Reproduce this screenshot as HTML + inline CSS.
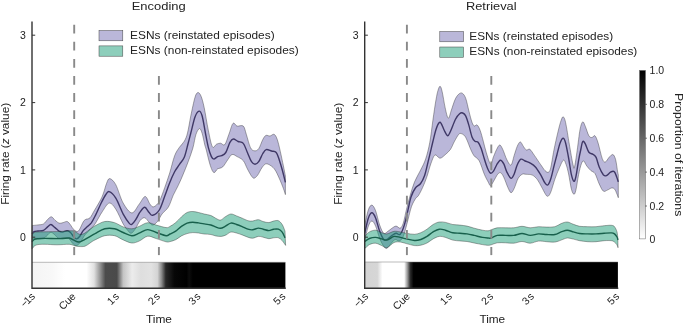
<!DOCTYPE html>
<html><head><meta charset="utf-8"><title>Firing rate</title>
<style>
html,body{margin:0;padding:0;background:#fff;}
svg{display:block;}
text{font-family:"Liberation Sans",sans-serif;fill:#222;}
.t{font-size:10.5px;}
.ttl{font-size:11.2px;}
.ax{stroke:#333;stroke-width:1.4;fill:none;}
.tk{stroke:#333;stroke-width:1;fill:none;}
.ds{stroke:#898989;stroke-width:1.9;stroke-dasharray:8.8 8.3;fill:none;}
.pb{fill:#7570b3;fill-opacity:.5;stroke:#222;stroke-width:.45;stroke-opacity:.85;}
.gb{fill:#1b9e77;fill-opacity:.5;stroke:#222;stroke-width:.45;stroke-opacity:.85;}
.pm{fill:none;stroke:#3f3866;stroke-width:1.4;}
.gm{fill:none;stroke:#18604c;stroke-width:1.4;}
</style></head><body>
<svg width="685" height="326" viewBox="0 0 685 326">
<defs>
<linearGradient id="hl" x1="0" x2="1" y1="0" y2="0">
<stop offset="0" stop-color="#f4f4f4"/>
<stop offset="0.08" stop-color="#f8f8f8"/>
<stop offset="0.13" stop-color="#ffffff"/>
<stop offset="0.215" stop-color="#ffffff"/>
<stop offset="0.245" stop-color="#e0e0e0"/>
<stop offset="0.27" stop-color="#909090"/>
<stop offset="0.29" stop-color="#4c4c4c"/>
<stop offset="0.335" stop-color="#4a4a4a"/>
<stop offset="0.36" stop-color="#c4c4c4"/>
<stop offset="0.395" stop-color="#ececec"/>
<stop offset="0.43" stop-color="#dedede"/>
<stop offset="0.47" stop-color="#e2e2e2"/>
<stop offset="0.495" stop-color="#d4d4d4"/>
<stop offset="0.511" stop-color="#8c8c8c"/>
<stop offset="0.528" stop-color="#282828"/>
<stop offset="0.562" stop-color="#070707"/>
<stop offset="0.61" stop-color="#000000"/>
<stop offset="0.62" stop-color="#0c0c0c"/>
<stop offset="0.635" stop-color="#000000"/>
<stop offset="1" stop-color="#000000"/>
</linearGradient>
<linearGradient id="hr" x1="0" x2="1" y1="0" y2="0">
<stop offset="0" stop-color="#d4d4d4"/>
<stop offset="0.05" stop-color="#d6d6d6"/>
<stop offset="0.07" stop-color="#ffffff"/>
<stop offset="0.156" stop-color="#ffffff"/>
<stop offset="0.169" stop-color="#969696"/>
<stop offset="0.180" stop-color="#2c2c2c"/>
<stop offset="0.193" stop-color="#000000"/>
<stop offset="1" stop-color="#000000"/>
</linearGradient>
<linearGradient id="cb" x1="0" x2="0" y1="0" y2="1">
<stop offset="0" stop-color="#000000"/>
<stop offset="1" stop-color="#ffffff"/>
</linearGradient>
</defs>
<rect width="685" height="326" fill="#fff"/>

<!-- LEFT PANEL -->
<text class="ttl" x="158.7" y="10.4" text-anchor="middle" textLength="54" lengthAdjust="spacingAndGlyphs">Encoding</text>
<rect x="32" y="262.3" width="253.4" height="26" fill="url(#hl)"/>
<line x1="32" y1="262.3" x2="285.4" y2="262.3" stroke="#777" stroke-width=".5"/>
<path class="pb" d="M32.3,225.5C33.3,225.4 36.2,225.2 38.1,224.9C40.0,224.6 41.9,224.8 43.5,223.9C45.1,223.0 46.3,220.7 47.6,219.5C48.9,218.3 50.2,216.7 51.4,216.8C52.6,216.9 53.7,219.1 55.0,220.2C56.3,221.2 57.8,222.7 59.1,223.1C60.5,223.5 61.8,222.9 63.1,222.6C64.5,222.3 66.0,221.1 67.2,221.5C68.4,221.9 69.5,223.6 70.5,224.9C71.5,226.2 72.4,228.2 73.5,229.3C74.6,230.4 76.0,231.5 77.0,231.5C78.0,231.5 78.5,231.0 79.5,229.5C80.5,228.0 82.0,224.0 83.0,222.3C84.0,220.6 84.3,220.2 85.5,219.5C86.7,218.8 88.5,219.3 90.0,217.8C91.5,216.3 92.7,213.3 94.5,210.3C96.3,207.3 99.2,202.5 100.7,199.6C102.2,196.7 102.5,195.7 103.5,193.0C104.5,190.3 105.5,185.9 106.5,183.5C107.5,181.1 108.2,178.4 109.7,178.6C111.2,178.8 113.5,180.6 115.8,184.7C118.0,188.8 120.5,198.4 123.2,203.1C125.9,207.8 129.2,212.7 131.8,212.9C134.5,213.1 136.9,207.0 139.1,204.3C141.3,201.6 143.4,196.5 145.2,196.5C147.0,196.5 148.7,202.6 150.1,204.3C151.5,206.0 152.3,207.3 153.8,206.8C155.3,206.3 157.5,204.5 159.3,201.3C161.1,198.1 163.0,192.4 164.7,187.7C166.4,183.0 168.0,178.3 169.7,173.0C171.3,167.7 173.0,160.1 174.6,155.8C176.2,151.5 177.9,149.6 179.5,147.2C181.1,144.8 183.1,143.5 184.4,141.1C185.7,138.7 186.4,137.2 187.5,133.0C188.6,128.8 189.6,121.8 190.8,115.8C192.1,109.8 193.8,101.2 195.0,97.3C196.2,93.4 197.0,92.8 198.0,92.6C199.0,92.4 200.1,93.8 201.1,96.3C202.1,98.8 203.0,101.9 204.2,107.6C205.4,113.2 206.9,123.7 208.3,130.2C209.7,136.7 211.0,144.4 212.4,146.7C213.8,149.0 215.1,144.8 216.5,144.2C217.9,143.6 219.2,143.1 220.6,143.2C222.0,143.3 223.4,146.1 224.8,144.6C226.2,143.1 227.5,137.8 228.9,134.3C230.3,130.8 231.6,124.8 233.0,123.4C234.4,122.0 235.4,125.6 237.1,126.1C238.8,126.5 241.8,124.7 243.3,126.1C244.8,127.5 245.1,130.7 246.3,134.3C247.5,137.9 249.1,144.9 250.5,147.7C251.9,150.4 253.2,150.6 254.6,150.8C256.0,151.0 257.3,150.6 258.7,148.7C260.1,146.8 261.6,141.7 262.8,139.5C264.0,137.3 264.7,136.0 265.9,135.4C267.1,134.8 268.6,136.2 270.0,136.0C271.4,135.8 272.9,133.8 274.1,134.3C275.3,134.9 276.2,136.5 277.2,139.3C278.2,142.2 279.3,147.0 280.3,151.4C281.3,155.8 282.5,161.7 283.4,165.8C284.2,169.9 285.1,174.4 285.4,176.1L285.4,194.6C285.1,193.6 284.4,191.2 283.4,188.5C282.4,185.8 280.6,181.3 279.2,178.2C277.8,175.1 276.5,172.1 275.1,170.0C273.7,167.9 272.5,166.8 271.0,165.8C269.5,164.8 267.4,163.5 265.9,163.8C264.4,164.2 263.2,166.0 261.8,167.9C260.4,169.8 259.0,173.4 257.7,175.1C256.4,176.8 255.2,178.0 254.2,178.2C253.2,178.4 252.6,177.6 251.5,176.1C250.4,174.6 248.8,171.5 247.4,168.9C246.0,166.3 245.0,162.8 243.3,160.7C241.6,158.6 239.0,157.6 237.1,156.6C235.2,155.6 233.6,154.0 232.0,154.5C230.4,155.0 229.4,157.6 227.8,159.7C226.2,161.8 224.4,165.4 222.7,166.9C221.0,168.4 219.1,168.0 217.6,168.9C216.1,169.8 215.1,173.1 213.9,172.6C212.7,172.1 211.7,169.6 210.4,165.8C209.1,162.0 207.2,153.5 206.3,150.0C205.4,146.5 205.5,147.8 204.8,145.0C204.1,142.2 203.0,136.0 202.1,133.3C201.2,130.6 200.5,128.4 199.5,128.6C198.5,128.8 197.1,131.1 196.0,134.3C194.9,137.5 194.2,143.4 192.9,148.0C191.6,152.6 189.7,157.5 188.1,161.9C186.5,166.3 184.8,170.3 183.2,174.2C181.6,178.1 180.0,181.8 178.3,185.3C176.7,188.8 175.0,191.5 173.3,195.1C171.7,198.7 170.3,203.8 168.4,207.0C166.5,210.2 163.8,211.6 162.0,214.0C160.2,216.4 159.1,219.7 157.5,221.5C155.9,223.3 154.0,225.0 152.6,225.1C151.2,225.2 150.2,223.2 148.9,222.0C147.6,220.8 146.2,218.1 144.8,217.8C143.4,217.5 141.9,218.4 140.3,220.2C138.7,222.0 136.9,226.6 135.4,228.8C133.9,231.0 132.5,232.9 131.3,233.2C130.1,233.5 129.4,232.4 128.1,230.8C126.8,229.2 125.2,227.5 123.2,223.9C121.2,220.3 118.1,212.7 115.8,209.2C113.5,205.7 111.4,202.7 109.2,203.1C107.0,203.5 104.8,208.0 102.4,211.5C100.0,215.0 97.1,220.9 95.0,224.0C92.9,227.1 91.6,228.1 90.0,229.8C88.4,231.6 86.8,232.6 85.3,234.5C83.8,236.4 82.2,239.6 81.0,241.3C79.8,243.0 78.9,244.1 78.0,244.8C77.1,245.5 76.4,245.9 75.5,245.6C74.6,245.3 73.4,244.2 72.4,243.1C71.4,242.0 70.5,240.1 69.4,239.2C68.3,238.3 67.8,238.1 66.0,237.9C64.2,237.7 60.2,238.5 58.4,238.0C56.6,237.5 56.2,235.9 55.0,235.0C53.8,234.1 52.2,232.2 50.9,232.3C49.5,232.4 48.1,234.8 46.9,235.7C45.7,236.6 45.5,237.6 43.5,238.0C41.5,238.4 36.9,238.2 35.0,238.4C33.1,238.7 32.8,239.3 32.3,239.5Z"/>
<path class="pm" d="M32.1,233.8C32.4,233.4 33.0,232.1 34.0,231.6C35.0,231.1 36.4,231.2 38.0,231.0C39.6,230.8 41.9,231.0 43.5,230.3C45.1,229.6 46.4,227.9 47.6,226.9C48.8,225.9 49.7,224.4 50.9,224.5C52.1,224.6 53.6,226.5 55.0,227.6C56.4,228.7 57.9,230.4 59.1,231.2C60.3,231.9 61.0,232.2 62.4,232.1C63.8,232.0 65.9,230.7 67.2,230.8C68.5,230.9 69.4,231.5 70.5,232.5C71.6,233.5 72.7,235.9 73.7,237.0C74.7,238.1 75.5,239.0 76.5,238.9C77.5,238.8 78.7,237.6 79.8,236.2C80.9,234.8 81.9,232.2 83.2,230.6C84.5,229.0 86.2,227.8 87.5,226.5C88.8,225.2 90.0,224.6 91.3,222.9C92.5,221.2 93.4,219.5 95.0,216.3C96.6,213.2 99.0,207.6 100.7,204.0C102.5,200.4 104.1,197.1 105.5,195.0C106.9,192.9 107.5,191.1 109.2,191.6C110.9,192.1 113.5,194.4 115.8,198.2C118.1,201.9 121.0,209.9 123.2,214.1C125.5,218.3 127.9,221.7 129.3,223.4C130.7,225.1 130.8,224.9 131.8,224.4C132.8,223.9 134.0,222.3 135.4,220.2C136.8,218.1 138.7,213.8 140.3,211.7C141.9,209.5 143.4,207.2 144.8,207.3C146.2,207.4 147.6,210.9 148.9,212.2C150.2,213.5 150.9,215.7 152.6,215.3C154.3,214.9 157.3,213.2 159.3,210.0C161.3,206.8 163.0,200.8 164.7,196.3C166.4,191.8 168.0,186.9 169.7,182.8C171.3,178.7 173.0,174.9 174.6,171.8C176.2,168.7 177.9,166.9 179.5,164.4C181.1,161.9 183.0,160.5 184.4,157.0C185.8,153.5 187.0,147.5 188.1,143.5C189.2,139.5 189.7,137.4 190.8,133.0C192.0,128.6 193.6,120.6 195.0,116.9C196.4,113.2 197.9,111.3 199.1,111.1C200.3,110.9 201.0,112.1 202.1,115.8C203.2,119.5 204.4,127.8 205.4,133.0C206.4,138.2 207.3,143.4 208.3,147.3C209.3,151.2 210.5,154.6 211.4,156.6C212.3,158.6 212.9,159.1 213.9,159.1C214.9,159.1 216.3,157.2 217.6,156.6C218.9,156.0 220.3,156.3 221.7,155.6C223.1,154.9 224.4,154.7 225.8,152.5C227.2,150.3 228.7,144.7 229.9,142.4C231.2,140.2 231.9,139.2 233.3,139.0C234.7,138.8 236.4,140.8 238.1,141.5C239.8,142.2 241.8,141.6 243.3,143.4C244.9,145.2 246.0,149.4 247.4,152.5C248.8,155.6 250.2,159.8 251.5,161.7C252.8,163.6 253.8,164.2 255.0,164.2C256.2,164.2 257.4,163.5 258.7,161.7C260.0,159.9 261.6,155.5 262.8,153.5C264.1,151.5 264.8,150.0 266.2,149.6C267.6,149.2 269.8,150.5 271.5,151.0C273.2,151.5 274.9,151.1 276.2,152.5C277.5,153.9 278.2,156.8 279.2,159.7C280.2,162.6 281.3,166.2 282.3,170.0C283.3,173.8 284.9,180.2 285.4,182.3"/>
<path class="gb" d="M32.1,235.0C32.4,234.6 33.2,233.1 34.0,232.6C34.8,232.1 35.2,232.1 37.0,232.0C38.8,231.9 41.2,231.9 45.0,231.8C48.8,231.7 55.8,231.6 60.0,231.4C64.2,231.2 67.6,230.8 70.0,230.8C72.4,230.8 73.2,230.8 74.5,231.2C75.8,231.6 76.9,232.9 78.0,233.5C79.1,234.1 79.8,234.7 81.0,234.6C82.2,234.5 83.5,233.9 85.0,233.0C86.5,232.1 88.3,230.4 90.0,229.2C91.7,228.0 92.5,227.2 95.0,225.9C97.5,224.6 101.5,222.0 104.8,221.5C108.1,221.0 111.5,221.8 114.6,222.7C117.7,223.6 120.3,225.9 123.2,226.9C126.1,227.9 129.2,228.9 131.8,228.8C134.5,228.7 136.4,227.4 139.1,226.4C141.8,225.4 144.8,222.9 147.7,222.7C150.6,222.5 153.2,224.3 156.3,225.1C159.4,225.9 163.8,227.4 166.1,227.6C168.4,227.8 168.4,227.2 170.0,226.4C171.6,225.6 173.8,224.2 175.7,222.6C177.6,221.0 179.5,218.6 181.4,216.9C183.3,215.2 185.2,213.4 187.1,212.5C189.0,211.6 190.9,211.5 192.8,211.5C194.7,211.5 196.6,212.1 198.5,212.5C200.4,212.9 202.1,213.5 204.2,214.0C206.3,214.5 209.0,214.8 210.9,215.5C212.8,216.2 214.0,217.4 215.6,218.2C217.2,219.0 218.8,220.3 220.4,220.1C222.0,219.9 223.4,217.9 225.1,216.9C226.8,215.9 228.9,214.2 230.8,214.0C232.7,213.8 234.6,215.2 236.5,215.9C238.4,216.6 240.3,217.4 242.2,218.2C244.1,219.0 246.2,220.2 247.9,220.7C249.7,221.2 250.9,221.2 252.7,221.0C254.4,220.8 256.6,219.6 258.4,219.7C260.1,219.8 261.4,221.1 263.2,221.6C264.9,222.1 267.2,222.7 268.9,222.6C270.6,222.5 272.0,221.3 273.6,221.0C275.2,220.7 277.0,220.1 278.4,220.7C279.8,221.3 281.1,222.8 282.2,224.5C283.3,226.2 284.5,230.0 285.0,231.1L285.6,245.4C285.0,244.6 283.4,241.9 282.2,240.6C281.0,239.3 279.8,238.3 278.4,237.8C277.0,237.3 275.2,237.7 273.6,237.8C272.0,238.0 270.6,238.8 268.9,238.7C267.2,238.6 264.9,237.6 263.2,237.2C261.4,236.8 260.1,236.2 258.4,236.4C256.6,236.6 254.4,238.1 252.7,238.2C250.9,238.3 249.7,237.8 247.9,237.2C246.2,236.6 244.1,235.6 242.2,234.9C240.3,234.2 238.4,233.5 236.5,233.0C234.6,232.5 232.5,231.8 230.8,232.1C229.1,232.4 227.7,234.2 226.1,234.9C224.5,235.6 223.1,236.2 221.3,236.4C219.6,236.6 217.3,236.2 215.6,235.9C213.9,235.6 212.8,234.8 210.9,234.5C209.0,234.2 206.3,234.2 204.2,234.0C202.1,233.8 200.4,233.2 198.5,233.0C196.6,232.8 194.7,232.5 192.8,232.6C190.9,232.7 189.0,233.0 187.1,233.6C185.2,234.2 183.3,234.9 181.4,235.9C179.5,236.9 177.6,238.8 175.7,239.7C173.8,240.6 171.6,241.2 170.0,241.6C168.4,241.9 168.4,242.3 166.1,241.8C163.8,241.3 159.4,239.5 156.3,238.6C153.2,237.7 150.6,235.8 147.7,236.2C144.8,236.6 141.8,240.0 139.1,241.1C136.4,242.2 134.5,243.2 131.8,243.0C129.2,242.8 126.1,241.1 123.2,239.9C120.3,238.7 117.7,236.4 114.6,235.7C111.5,235.0 108.1,235.0 104.8,235.7C101.5,236.4 97.5,238.7 95.0,239.9C92.5,241.1 91.7,241.9 90.0,243.0C88.3,244.1 86.8,245.6 85.0,246.2C83.2,246.8 80.8,246.6 79.0,246.5C77.2,246.4 76.1,246.1 74.5,245.7C72.9,245.3 72.1,244.5 69.2,244.3C66.3,244.2 61.0,244.8 57.0,244.8C53.0,244.8 48.2,244.3 45.0,244.3C41.8,244.3 39.8,244.3 38.0,244.6C36.2,244.9 35.5,245.3 34.5,246.0C33.5,246.7 32.4,248.3 32.0,248.8Z"/>
<path class="gm" d="M32.0,241.7C32.4,241.3 33.5,239.9 34.5,239.4C35.5,238.9 36.2,238.9 38.0,238.7C39.8,238.5 41.2,238.4 45.0,238.4C48.8,238.4 56.7,238.7 60.7,238.6C64.7,238.5 67.0,237.7 69.2,238.0C71.4,238.3 72.3,239.5 73.9,240.2C75.5,240.9 77.2,242.2 79.0,242.0C80.8,241.8 82.3,240.7 85.0,239.3C87.7,237.9 91.7,235.4 95.0,233.7C98.3,231.9 101.5,229.6 104.8,228.8C108.1,228.0 111.5,228.2 114.6,228.8C117.7,229.4 120.3,231.3 123.2,232.5C126.1,233.7 129.2,235.6 131.8,235.7C134.5,235.8 136.4,234.2 139.1,233.2C141.8,232.2 144.8,229.7 147.7,229.6C150.6,229.5 153.2,231.5 156.3,232.5C159.4,233.5 163.8,235.4 166.1,235.7C168.4,235.9 168.4,234.8 170.0,234.0C171.6,233.2 173.8,232.4 175.7,231.1C177.6,229.8 179.5,227.7 181.4,226.4C183.3,225.1 185.2,223.8 187.1,223.1C189.0,222.4 190.9,222.2 192.8,222.2C194.7,222.2 196.6,222.6 198.5,222.9C200.4,223.2 202.1,223.6 204.2,223.9C206.3,224.2 209.0,224.5 210.9,225.0C212.8,225.5 214.0,226.3 215.6,226.9C217.2,227.5 218.8,228.4 220.4,228.3C222.0,228.2 223.4,227.3 225.1,226.4C226.8,225.5 228.9,223.4 230.8,223.1C232.7,222.8 234.6,223.9 236.5,224.5C238.4,225.1 240.3,225.9 242.2,226.7C244.1,227.5 246.2,228.7 247.9,229.2C249.7,229.7 250.9,230.0 252.7,229.8C254.4,229.6 256.6,228.2 258.4,228.1C260.1,228.0 261.4,228.8 263.2,229.2C264.9,229.6 267.2,230.6 268.9,230.6C270.6,230.6 272.0,229.4 273.6,229.2C275.2,229.0 277.0,228.7 278.4,229.2C279.8,229.7 281.1,230.7 282.2,232.1C283.3,233.5 284.5,236.9 285.0,237.8"/>
<path class="ds" d="M74.2,24.7V255.1"/>
<path class="ds" d="M158.9,76V255.1"/>
<path class="ax" d="M32,21.4V288.3H285.8"/>
<path class="tk" d="M32,35.2h3.2M32,102.6h3.2M32,169.9h3.2M32,237.2h3.2"/>
<g class="t" text-anchor="end">
<text x="25.8" y="38.9">3</text><text x="25.8" y="106.3">2</text><text x="25.8" y="173.6">1</text><text x="25.8" y="240.9">0</text>
</g>
<text class="t" style="font-size:11px" transform="translate(9.3,153.8) rotate(-90)" text-anchor="middle" textLength="102" lengthAdjust="spacingAndGlyphs">Firing rate (<tspan font-style="italic">z</tspan> value)</text>
<rect x="99" y="30.5" width="23.8" height="10.3" fill="#7570b3" fill-opacity=".5" stroke="#444" stroke-width=".5"/>
<rect x="99" y="45.9" width="23.8" height="10.3" fill="#1b9e77" fill-opacity=".5" stroke="#444" stroke-width=".5"/>
<text class="t" x="130.1" y="38.5" textLength="144.5" lengthAdjust="spacingAndGlyphs">ESNs (reinstated episodes)</text>
<text class="t" x="130.1" y="54" textLength="168.6" lengthAdjust="spacingAndGlyphs">ESNs (non-reinstated episodes)</text>
<g class="t" text-anchor="end">
<text transform="translate(35.6,297) rotate(-45)" textLength="15.4" lengthAdjust="spacing">−1 s</text>
<text transform="translate(76.5,297) rotate(-45)">Cue</text>
<text transform="translate(119.8,297) rotate(-45)" textLength="12" lengthAdjust="spacing">1 s</text>
<text transform="translate(160.7,297) rotate(-45)" textLength="12" lengthAdjust="spacing">2 s</text>
<text transform="translate(201.2,297) rotate(-45)" textLength="12" lengthAdjust="spacing">3 s</text>
<text transform="translate(286.1,297) rotate(-45)" textLength="12" lengthAdjust="spacing">5 s</text>
</g>
<text class="ttl" x="159" y="322.8" text-anchor="middle" textLength="26" lengthAdjust="spacingAndGlyphs" style="font-size:11.5px">Time</text>

<!-- RIGHT PANEL -->
<text class="ttl" x="491.3" y="10.4" text-anchor="middle" textLength="50.7" lengthAdjust="spacingAndGlyphs">Retrieval</text>
<rect x="364.7" y="262" width="253.2" height="26.3" fill="url(#hr)"/>
<line x1="364.7" y1="262" x2="617.9" y2="262" stroke="#777" stroke-width=".5"/>
<path class="pb" d="M364.7,225.1C365.3,222.5 367.2,213.0 368.4,209.7C369.6,206.4 370.7,204.9 371.9,205.1C373.1,205.3 374.3,207.4 375.6,210.7C376.9,214.0 378.3,221.3 379.7,225.1C381.1,228.9 382.4,232.3 383.8,233.3C385.2,234.3 386.5,232.2 387.9,231.3C389.3,230.5 390.6,229.1 392.0,228.2C393.4,227.3 394.7,226.1 396.1,226.1C397.5,226.1 399.0,228.7 400.2,228.2C401.4,227.7 402.3,226.1 403.3,223.0C404.3,219.9 405.3,214.2 406.4,209.7C407.5,205.2 408.6,200.6 410.0,196.0C411.4,191.4 412.7,186.3 414.5,182.0C416.3,177.7 418.7,174.0 420.6,170.1C422.5,166.2 424.2,163.4 425.7,158.8C427.2,154.2 428.6,148.7 429.8,142.3C431.0,135.9 431.9,127.3 432.9,120.2C433.9,113.1 435.1,104.7 436.0,99.7C436.9,94.7 437.3,92.6 438.0,90.4C438.7,88.2 439.4,86.1 440.1,86.3C440.8,86.5 441.2,87.8 442.1,91.4C443.0,95.0 444.2,103.4 445.2,107.9C446.2,112.4 447.3,117.9 448.3,118.2C449.3,118.5 450.2,113.3 451.4,110.0C452.6,106.7 454.1,101.3 455.5,98.6C456.9,95.8 458.4,94.3 459.6,93.5C460.8,92.7 461.7,92.7 462.7,93.5C463.7,94.3 464.8,95.7 465.8,98.6C466.8,101.5 467.9,107.0 468.9,111.0C469.9,115.0 471.1,119.8 472.0,122.3C472.9,124.8 473.5,125.5 474.4,126.0C475.2,126.5 476.1,124.2 477.1,125.0C478.1,125.8 479.2,127.8 480.2,130.5C481.2,133.2 482.3,137.6 483.3,141.3C484.3,145.0 485.1,148.8 486.3,152.6C487.5,156.4 489.3,163.2 490.5,163.9C491.7,164.6 492.5,159.1 493.5,156.7C494.5,154.3 495.6,151.4 496.6,149.5C497.6,147.6 498.7,145.0 499.7,145.0C500.7,145.0 501.6,147.0 502.8,149.5C504.0,152.0 505.5,157.2 506.9,159.8C508.3,162.4 509.8,165.7 511.0,165.0C512.2,164.3 513.1,158.8 514.1,155.7C515.1,152.6 516.2,148.7 517.2,146.4C518.2,144.1 519.3,141.9 520.3,141.9C521.3,141.9 522.4,145.1 523.4,146.4C524.4,147.8 525.3,149.5 526.4,150.0C527.5,150.5 528.6,148.4 529.9,149.3C531.2,150.2 532.6,152.9 534.4,155.4C536.2,157.9 538.8,162.0 540.6,164.5C542.4,167.0 543.7,169.3 545.0,170.6C546.3,171.9 547.4,172.7 548.4,172.2C549.4,171.7 549.9,171.2 550.8,167.5C551.7,163.8 552.7,156.2 553.9,150.2C555.1,144.2 556.8,136.7 558.0,131.7C559.2,126.7 560.2,122.9 561.1,120.4C562.0,117.9 562.5,116.6 563.2,116.9C564.0,117.2 564.6,118.0 565.6,122.5C566.6,127.0 568.1,137.1 569.3,144.1C570.5,151.1 572.1,160.8 573.0,164.6C573.9,168.4 573.8,169.4 574.5,167.0C575.2,164.6 576.3,156.4 577.2,150.2C578.1,144.0 579.1,134.4 580.0,129.7C580.9,125.0 581.8,122.4 582.7,121.9C583.6,121.4 584.4,124.3 585.4,126.6C586.4,128.9 587.8,134.0 588.9,135.8C590.0,137.6 591.0,137.5 592.0,137.5C593.0,137.5 594.0,134.9 595.0,135.8C596.0,136.7 596.9,139.2 598.1,143.0C599.3,146.8 601.0,155.2 602.2,158.4C603.4,161.6 604.1,162.2 605.3,162.0C606.5,161.8 608.1,158.2 609.4,157.0C610.7,155.8 611.9,154.1 612.9,154.5C613.9,154.9 614.8,156.6 615.6,159.5C616.4,162.4 617.2,169.5 617.7,172.0C618.2,174.5 618.2,174.2 618.3,174.7L618.3,197.7C618.1,197.1 617.6,195.6 617.0,194.2C616.4,192.8 615.5,190.1 614.6,189.1C613.7,188.1 612.7,187.8 611.5,188.0C610.3,188.2 608.8,189.6 607.4,190.1C606.0,190.6 604.7,192.1 603.3,191.1C601.9,190.1 600.6,186.8 599.2,183.9C597.8,181.0 596.4,175.8 595.0,173.6C593.6,171.4 592.3,171.9 590.9,170.6C589.5,169.3 588.0,167.6 586.8,166.0C585.6,164.4 584.6,161.4 583.7,161.0C582.8,160.6 582.4,161.2 581.5,163.5C580.6,165.8 579.5,170.3 578.6,174.7C577.7,179.1 576.7,186.8 575.9,190.1C575.1,193.3 574.6,194.4 573.9,194.2C573.1,194.0 572.3,192.5 571.4,189.1C570.5,185.7 569.5,178.1 568.6,174.0C567.7,169.9 566.9,166.6 566.0,164.3C565.1,162.0 564.5,159.5 563.4,160.2C562.2,160.9 560.5,165.4 559.1,168.5C557.7,171.6 556.4,174.9 555.0,178.8C553.6,182.7 552.0,189.2 550.8,192.1C549.6,195.0 548.8,196.1 547.8,196.3C546.8,196.6 546.1,195.2 545.1,193.6C544.1,192.0 542.9,189.3 541.6,187.0C540.3,184.7 539.0,181.8 537.5,179.8C536.0,177.8 534.2,176.0 532.3,175.1C530.4,174.2 527.9,174.5 526.2,174.3C524.5,174.2 523.6,173.5 522.3,174.2C521.0,174.9 519.6,175.9 518.2,178.3C516.8,180.7 515.3,186.2 514.1,188.6C512.9,191.0 512.0,192.9 511.0,192.7C510.0,192.5 509.1,190.2 507.9,187.6C506.7,185.0 505.0,179.8 503.8,177.3C502.6,174.8 501.7,173.3 500.7,172.8C499.7,172.3 498.9,172.8 497.7,174.2C496.5,175.6 494.7,179.5 493.5,181.4C492.3,183.3 491.4,185.3 490.5,185.5C489.6,185.7 489.4,184.3 488.4,182.4C487.4,180.5 485.8,177.8 484.3,174.2C482.8,170.6 480.9,163.9 479.2,160.8C477.5,157.7 475.6,157.9 474.0,155.7C472.4,153.5 470.9,149.8 469.9,147.5C468.9,145.2 468.6,143.9 467.8,142.0C467.0,140.1 465.9,137.4 464.8,136.0C463.7,134.6 462.1,133.8 461.1,133.6C460.1,133.3 459.7,133.2 458.6,134.5C457.5,135.8 455.9,138.8 454.5,141.3C453.1,143.8 451.9,147.3 450.4,149.5C448.8,151.7 446.9,153.2 445.2,154.7C443.5,156.1 441.8,158.1 440.1,158.2C438.4,158.3 436.4,154.1 434.9,155.1C433.3,156.1 432.2,160.2 430.8,163.9C429.4,167.6 428.1,173.4 426.7,177.3C425.3,181.2 424.0,184.6 422.6,187.6C421.2,190.6 419.6,193.7 418.5,195.5C417.4,197.3 416.9,196.6 415.7,198.4C414.5,200.2 412.9,202.7 411.5,206.6C410.1,210.5 408.8,217.0 407.4,222.0C406.0,227.0 404.7,233.2 403.3,236.4C401.9,239.6 400.6,240.4 399.2,240.9C397.8,241.4 396.5,239.1 395.1,239.5C393.7,239.9 392.4,242.1 391.0,243.6C389.6,245.1 388.1,247.9 386.9,248.3C385.7,248.8 385.0,247.9 383.8,246.3C382.6,244.7 381.1,241.9 379.7,238.5C378.3,235.1 376.9,229.0 375.6,226.1C374.3,223.2 373.1,221.0 371.9,221.0C370.7,221.0 369.6,222.8 368.4,226.1C367.2,229.3 365.3,238.1 364.7,240.5Z"/>
<path class="pm" d="M364.7,233.3C365.3,230.7 367.2,221.3 368.4,217.9C369.6,214.5 370.7,212.8 371.9,212.8C373.1,212.8 374.3,214.8 375.6,217.9C376.9,221.0 378.3,227.7 379.7,231.3C381.1,234.9 382.4,238.2 383.8,239.5C385.2,240.8 386.5,239.6 387.9,238.9C389.3,238.2 390.6,236.3 392.0,235.4C393.4,234.5 394.7,233.5 396.1,233.3C397.5,233.1 398.8,235.7 400.2,234.3C401.6,232.9 402.9,229.6 404.3,225.1C405.7,220.6 407.4,212.3 408.5,207.6C409.6,202.9 409.9,200.3 411.0,197.0C412.1,193.7 413.8,190.2 415.4,188.0C417.0,185.8 419.1,185.6 420.6,183.5C422.2,181.4 423.3,179.3 424.7,175.2C426.1,171.1 427.4,164.4 428.8,158.8C430.2,153.2 431.7,146.4 432.9,141.5C434.1,136.6 435.0,132.6 436.0,129.5C437.0,126.4 438.2,123.7 439.1,122.7C440.0,121.7 440.2,122.0 441.1,123.3C442.0,124.6 443.1,128.2 444.2,130.3C445.3,132.4 446.7,135.5 447.7,135.7C448.7,135.9 449.1,134.2 450.4,131.5C451.7,128.8 454.0,122.2 455.5,119.2C457.0,116.2 458.4,114.7 459.6,113.7C460.8,112.7 461.7,112.6 462.7,113.0C463.7,113.4 464.8,114.0 465.8,116.1C466.8,118.2 467.9,121.9 468.9,125.4C469.9,128.9 471.0,134.3 472.0,137.0C473.0,139.7 474.0,140.4 475.0,141.3C476.0,142.2 477.1,141.0 478.1,142.2C479.1,143.4 480.2,145.7 481.2,148.5C482.2,151.3 483.3,155.6 484.3,158.8C485.3,162.1 486.4,165.6 487.4,168.0C488.4,170.4 489.5,172.7 490.5,173.2C491.5,173.7 492.5,172.5 493.5,171.1C494.5,169.7 495.5,166.8 496.6,165.0C497.7,163.2 499.1,160.4 500.3,160.2C501.5,160.0 502.7,161.9 503.8,163.9C504.9,165.9 505.7,169.7 506.9,172.1C508.1,174.5 509.8,178.0 511.0,178.3C512.2,178.7 513.1,176.4 514.1,174.2C515.1,172.0 516.1,167.5 517.2,165.0C518.3,162.5 519.6,159.9 520.9,159.2C522.2,158.5 523.5,160.3 525.1,161.0C526.7,161.7 528.6,162.2 530.3,163.2C532.0,164.2 533.7,165.1 535.4,167.0C537.1,168.9 539.0,172.1 540.6,174.7C542.2,177.3 543.5,180.8 544.7,182.5C545.9,184.2 546.8,185.6 547.8,185.0C548.8,184.4 549.8,181.9 550.8,178.8C551.8,175.7 552.9,170.5 553.9,166.4C554.9,162.3 556.0,158.4 557.0,154.5C558.0,150.6 559.1,145.7 560.1,143.0C561.1,140.3 562.3,138.3 563.2,138.3C564.1,138.3 564.7,139.7 565.6,143.0C566.5,146.3 567.6,152.7 568.6,158.0C569.6,163.3 570.5,170.8 571.4,174.7C572.3,178.6 573.1,181.0 573.9,181.3C574.6,181.6 575.1,180.2 575.9,176.7C576.7,173.2 577.8,164.8 578.6,160.3C579.4,155.9 580.0,153.1 580.7,150.0C581.4,146.9 581.9,142.6 582.7,141.6C583.5,140.6 584.4,142.3 585.4,144.1C586.4,145.9 587.6,150.6 588.9,152.3C590.2,154.0 591.8,153.5 593.0,154.3C594.2,155.2 595.1,155.3 596.1,157.4C597.1,159.5 598.0,164.1 599.2,167.0C600.4,169.9 602.1,173.2 603.3,174.7C604.5,176.1 605.2,176.1 606.4,175.7C607.6,175.3 609.2,172.9 610.5,172.2C611.8,171.5 613.2,170.8 614.2,171.6C615.2,172.3 615.9,175.0 616.6,176.7C617.3,178.4 618.0,181.0 618.3,181.9"/>
<path class="gb" d="M364.7,236.4C365.5,235.7 367.6,232.9 369.4,231.9C371.2,230.9 373.6,230.1 375.6,230.2C377.7,230.3 379.8,232.1 381.7,232.7C383.6,233.3 384.8,234.1 386.9,233.9C389.0,233.7 391.9,231.6 394.1,231.3C396.3,231.0 398.1,231.6 400.2,231.9C402.2,232.2 404.0,232.9 406.4,233.3C408.8,233.7 412.2,234.4 414.6,234.3C417.0,234.2 418.7,233.5 420.8,232.7C422.9,231.8 424.9,230.6 427.0,229.2C429.1,227.8 431.1,225.7 433.1,224.5C435.2,223.3 437.2,222.3 439.3,222.0C441.4,221.7 443.3,222.0 445.5,222.4C447.7,222.8 450.3,224.1 452.7,224.5C455.1,224.9 457.5,224.8 459.9,225.1C462.3,225.4 464.6,225.6 467.0,226.1C469.4,226.6 471.6,227.5 474.2,228.2C476.8,228.9 480.2,229.8 482.5,230.2C484.8,230.6 486.6,230.9 488.0,230.8C489.4,230.7 489.6,230.3 491.2,229.8C492.8,229.3 494.9,228.1 497.3,227.8C499.7,227.5 502.9,227.8 505.6,227.8C508.4,227.8 511.1,228.1 513.8,227.8C516.5,227.6 519.3,226.3 522.0,226.3C524.7,226.3 527.5,227.7 530.2,227.8C533.0,227.9 535.8,226.8 538.5,226.7C541.2,226.6 544.0,227.1 546.7,227.1C549.4,227.1 552.5,227.3 554.9,226.7C557.3,226.1 559.0,224.4 561.1,223.6C563.2,222.8 565.2,221.9 567.2,222.0C569.2,222.1 571.3,223.6 573.4,224.3C575.5,225.0 577.2,225.9 579.6,226.3C582.0,226.7 585.1,226.6 587.8,226.7C590.5,226.8 593.3,226.9 596.0,226.7C598.7,226.5 601.6,225.9 604.2,225.7C606.8,225.5 609.7,225.1 611.4,225.3C613.1,225.5 613.6,225.6 614.5,226.7C615.4,227.8 616.5,230.0 617.0,231.9C617.5,233.8 617.7,237.0 617.8,238.0L618.0,247.7C617.8,247.2 617.6,245.7 617.0,244.8C616.4,243.9 615.4,242.8 614.5,242.1C613.6,241.4 613.1,240.9 611.4,240.7C609.7,240.5 606.8,240.5 604.2,240.7C601.6,240.9 598.7,241.5 596.0,241.7C593.3,241.9 590.5,241.9 587.8,241.7C585.1,241.5 582.0,241.1 579.6,240.7C577.2,240.3 575.5,239.5 573.4,239.1C571.3,238.7 569.2,237.8 567.2,238.0C565.2,238.2 563.2,239.4 561.1,240.1C559.0,240.8 557.3,241.8 554.9,242.1C552.5,242.4 549.4,241.9 546.7,241.7C544.0,241.5 541.2,240.8 538.5,241.1C535.8,241.3 533.0,243.1 530.2,243.2C527.5,243.3 524.7,241.5 522.0,241.5C519.3,241.5 516.5,243.0 513.8,243.2C511.1,243.4 508.4,242.9 505.6,242.8C502.9,242.7 499.7,242.5 497.3,242.8C494.9,243.1 492.8,244.4 491.2,244.8C489.6,245.2 489.4,245.3 488.0,245.3C486.6,245.3 484.8,245.0 482.5,244.6C480.2,244.2 476.8,243.5 474.2,243.0C471.6,242.5 469.4,241.8 467.0,241.5C464.6,241.2 462.3,241.1 459.9,240.9C457.5,240.7 455.1,240.7 452.7,240.1C450.3,239.5 447.7,238.0 445.5,237.4C443.3,236.8 441.4,236.2 439.3,236.4C437.2,236.7 435.2,237.8 433.1,238.9C431.1,240.0 429.1,241.9 427.0,243.0C424.9,244.1 422.9,244.8 420.8,245.2C418.7,245.6 417.0,245.9 414.6,245.6C412.2,245.3 408.8,244.2 406.4,243.6C404.0,243.0 402.2,242.2 400.2,242.0C398.1,241.8 396.3,241.6 394.1,242.5C391.9,243.4 389.0,247.2 386.9,247.7C384.8,248.2 383.6,246.3 381.7,245.6C379.8,244.8 377.7,243.4 375.6,243.2C373.6,243.0 371.2,243.7 369.4,244.6C367.6,245.5 365.5,248.0 364.7,248.7Z"/>
<path class="gm" d="M364.7,241.5C365.5,241.0 367.6,239.2 369.4,238.5C371.2,237.8 373.6,237.3 375.6,237.4C377.7,237.5 379.8,238.5 381.7,238.9C383.6,239.3 384.8,240.5 386.9,240.1C389.0,239.7 391.9,236.8 394.1,236.4C396.3,236.0 398.1,237.0 400.2,237.4C402.2,237.8 404.0,238.4 406.4,238.9C408.8,239.4 412.2,240.4 414.6,240.5C417.0,240.6 418.7,240.2 420.8,239.5C422.9,238.8 424.9,237.7 427.0,236.4C429.1,235.1 431.1,233.1 433.1,231.9C435.2,230.7 437.2,229.5 439.3,229.2C441.4,228.9 443.3,229.6 445.5,230.2C447.7,230.8 450.3,232.2 452.7,232.7C455.1,233.2 457.5,233.1 459.9,233.3C462.3,233.5 464.6,233.6 467.0,233.9C469.4,234.2 471.6,234.8 474.2,235.4C476.8,236.0 480.2,237.0 482.5,237.4C484.8,237.8 486.6,237.9 488.0,238.0C489.4,238.1 489.6,238.4 491.2,238.0C492.8,237.6 494.9,235.8 497.3,235.4C499.7,235.0 502.9,235.4 505.6,235.4C508.4,235.4 511.1,235.7 513.8,235.4C516.5,235.1 519.3,233.5 522.0,233.5C524.7,233.5 527.5,235.3 530.2,235.4C533.0,235.5 535.8,234.1 538.5,233.9C541.2,233.8 544.0,234.4 546.7,234.5C549.4,234.6 552.5,234.9 554.9,234.5C557.3,234.1 559.0,232.6 561.1,231.9C563.2,231.2 565.2,230.2 567.2,230.2C569.2,230.2 571.3,231.3 573.4,231.9C575.5,232.5 577.2,233.2 579.6,233.5C582.0,233.8 585.1,233.8 587.8,233.9C590.5,234.0 593.3,234.0 596.0,233.9C598.7,233.8 601.6,233.5 604.2,233.3C606.8,233.1 609.7,232.8 611.4,232.9C613.1,233.0 613.6,233.2 614.5,233.9C615.4,234.6 616.4,236.0 617.0,237.0C617.6,238.0 617.8,239.6 618.0,240.1"/>
<path class="ds" d="M406.9,24.7V255.1"/>
<path class="ds" d="M491.3,76V255.1"/>
<path class="ax" d="M364.7,21.4V288.3H618.3"/>
<path class="tk" d="M364.7,35.2h3.2M364.7,102.6h3.2M364.7,169.9h3.2M364.7,237.2h3.2"/>
<g class="t" text-anchor="end">
<text x="358.5" y="38.9">3</text><text x="358.5" y="106.3">2</text><text x="358.5" y="173.6">1</text><text x="358.5" y="240.9">0</text>
</g>
<text class="t" style="font-size:11px" transform="translate(342.2,153.8) rotate(-90)" text-anchor="middle" textLength="102" lengthAdjust="spacingAndGlyphs">Firing rate (<tspan font-style="italic">z</tspan> value)</text>
<rect x="439.8" y="31.5" width="23.8" height="10.3" fill="#7570b3" fill-opacity=".5" stroke="#444" stroke-width=".5"/>
<rect x="439.8" y="47" width="23.8" height="10.3" fill="#1b9e77" fill-opacity=".5" stroke="#444" stroke-width=".5"/>
<text class="t" x="469.3" y="39.7" textLength="143.8" lengthAdjust="spacingAndGlyphs">ESNs (reinstated episodes)</text>
<text class="t" x="469.3" y="55" textLength="168" lengthAdjust="spacingAndGlyphs">ESNs (non-reinstated episodes)</text>
<g class="t" text-anchor="end">
<text transform="translate(369.0,297) rotate(-45)" textLength="15.4" lengthAdjust="spacing">−1 s</text>
<text transform="translate(410.7,297) rotate(-45)">Cue</text>
<text transform="translate(452.8,297) rotate(-45)" textLength="12" lengthAdjust="spacing">1 s</text>
<text transform="translate(493.9,297) rotate(-45)" textLength="12" lengthAdjust="spacing">2 s</text>
<text transform="translate(534.8,297) rotate(-45)" textLength="12" lengthAdjust="spacing">3 s</text>
<text transform="translate(620.0,297) rotate(-45)" textLength="12" lengthAdjust="spacing">5 s</text>
</g>
<text class="ttl" x="492.3" y="322.8" text-anchor="middle" textLength="25.8" lengthAdjust="spacingAndGlyphs" style="font-size:11.5px">Time</text>

<!-- COLORBAR -->
<rect x="639.5" y="70.4" width="6" height="168.5" fill="url(#cb)" stroke="#666" stroke-width=".5"/>
<path class="tk" stroke-width=".6" d="M645.5,104.3h1.2M645.5,138.2h1.2M645.5,172.1h1.2M645.5,206h1.2"/>
<g class="t">
<text x="649.6" y="74.1">1.0</text><text x="649.6" y="108">0.8</text><text x="649.6" y="141.9">0.6</text><text x="649.6" y="175.8">0.4</text><text x="649.6" y="209.7">0.2</text><text x="649.6" y="242.6">0</text>
</g>
<text class="t" transform="translate(675.3,93) rotate(90)" textLength="123.3" lengthAdjust="spacingAndGlyphs">Proportion of iterations</text>
</svg>
</body></html>
